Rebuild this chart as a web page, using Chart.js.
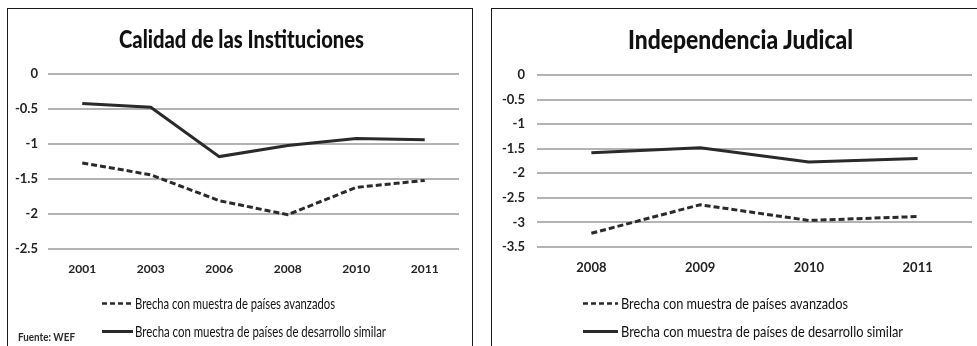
<!DOCTYPE html>
<html lang="es">
<head>
<meta charset="utf-8">
<title>Calidad de las Instituciones / Independencia Judical</title>
<script src="https://cdn.jsdelivr.net/npm/chart.js@4.4.1/dist/chart.umd.min.js"></script>
<style>
  html, body { margin: 0; padding: 0; background: #fff; }
  body { width: 977px; height: 346px; position: relative; overflow: hidden; font-family: Lato, "Open Sans", sans-serif; color: #1e1e1e; }
  .panel { position: absolute; box-sizing: border-box; border: 1.5px solid #1a1a1a; border-bottom: none; }
  #panelA { left: 7px; top: 8px; width: 466px; height: 360px; }
  #panelB { left: 491px; top: 8px; width: 500px; height: 360px; border-right: none; }
  canvas.c { position: absolute; }
  #chartA { left: 9px; top: 10px; }
  #chartB { left: 493px; top: 10px; }
  .fit { position: absolute; white-space: nowrap; transform-origin: left center; line-height: 1; }
  .title { font-weight: 900; font-size: 25px; color: #111; }
  .leg { font-size: 15px; color: #111; }
  .src { font-size: 12px; font-weight: 700; color: #2a2a2a; }
  svg.sw { position: absolute; overflow: visible; }
</style>
</head>
<body>
<div class="panel" id="panelA"></div>
<div class="panel" id="panelB"></div>

<canvas class="c" id="chartA" width="462" height="336" style="width:462px;height:336px"></canvas>
<canvas class="c" id="chartB" width="484" height="336" style="width:484px;height:336px"></canvas>

<div class="fit title" data-cx="241" data-cy="38" data-w="245">Calidad de las Instituciones</div>
<div class="fit title" data-cx="740" data-cy="39" data-w="225" style="font-size:26px">Independencia Judical</div>

<svg class="sw" style="left:102px;top:302px" width="32" height="3"><line x1="0" y1="1.5" x2="31" y2="1.5" stroke="#2a2a2a" stroke-width="2.5" stroke-dasharray="5,3"/></svg>
<svg class="sw" style="left:102px;top:330px" width="32" height="3"><line x1="0" y1="1.5" x2="31" y2="1.5" stroke="#2a2a2a" stroke-width="3"/></svg>
<div class="fit leg" data-x="135" data-cy="303" data-w="200">Brecha con muestra de países avanzados</div>
<div class="fit leg" data-x="135" data-cy="331" data-w="251">Brecha con muestra de países de desarrollo similar</div>
<div class="fit src" data-x="18" data-cy="337" data-w="57">Fuente: WEF</div>

<svg class="sw" style="left:583px;top:302px" width="36" height="3"><line x1="0" y1="1.5" x2="35" y2="1.5" stroke="#2a2a2a" stroke-width="2.5" stroke-dasharray="5,3"/></svg>
<svg class="sw" style="left:583px;top:330px" width="36" height="3"><line x1="0" y1="1.5" x2="35" y2="1.5" stroke="#2a2a2a" stroke-width="3"/></svg>
<div class="fit leg" data-x="621" data-cy="303" data-w="227">Brecha con muestra de países avanzados</div>
<div class="fit leg" data-x="621" data-cy="331" data-w="282">Brecha con muestra de países de desarrollo similar</div>

<script>
// Calidad de las Instituciones
const yearsA = ['2001', '2003', '2006', '2008', '2010', '2011'];
const avanzadosA = [-1.27, -1.44, -1.81, -2.01, -1.62, -1.52];
const similaresA = [-0.42, -0.475, -1.18, -1.02, -0.92, -0.94];
const yTicksA = ['0', '-0.5', '-1', '-1.5', '-2', '-2.5'];

// Independencia Judical
const yearsB = ['2008', '2009', '2010', '2011'];
const avanzadosB = [-3.22, -2.64, -2.96, -2.88];
const similaresB = [-1.58, -1.48, -1.77, -1.70];
const yTicksB = ['0', '-0.5', '-1', '-1.5', '-2', '-2.5', '-3', '-3.5'];

const seriesNames = ['Brecha con muestra de países avanzados', 'Brecha con muestra de países de desarrollo similar'];

Chart.defaults.font.family = 'Lato, "Open Sans", sans-serif';
Chart.defaults.color = '#1f1f1f';
Chart.defaults.animation = false;

function tickLabel(list) {
  // tick values run 0, -0.5, -1 ... matching the list order
  return function (value) {
    const i = Math.round(-value / 0.5);
    return list[i] !== undefined ? list[i] : '';
  };
}

function makeChart(id, years, dashed, solid, ticks, geo) {
  const ctx = document.getElementById(id);
  return new Chart(ctx, {
    type: 'line',
    data: {
      labels: years,
      datasets: [
        { label: seriesNames[0], data: dashed, borderColor: '#2a2a2a', borderWidth: 3, borderDash: [6, 3], pointRadius: 0, tension: 0, fill: false },
        { label: seriesNames[1], data: solid, borderColor: '#2a2a2a', borderWidth: 3, pointRadius: 0, tension: 0, fill: false }
      ]
    },
    options: {
      responsive: false,
      animation: false,
      layout: { padding: { top: geo.top, right: geo.right, bottom: geo.bottom, left: 0 } },
      plugins: { legend: { display: false }, title: { display: false }, tooltip: { enabled: false } },
      scales: {
        x: {
          offset: true,
          grid: { display: false, drawTicks: false },
          border: { display: false },
          ticks: { padding: 13, font: { size: geo.xFont, weight: 'bold' }, color: '#222', maxRotation: 0, autoSkip: false },
          afterFit: (s) => { s.height = 30; }
        },
        y: {
          min: -(ticks.length - 1) * 0.5,
          max: 0,
          grid: { color: '#b3b3b3', lineWidth: 2, drawTicks: false },
          border: { display: false },
          ticks: { stepSize: 0.5, padding: geo.yPad, font: { size: 13, weight: 'bold' }, color: '#222', callback: tickLabel(ticks) },
          afterFit: (s) => { s.width = geo.yWidth; }
        }
      }
    }
  });
}

makeChart('chartA', yearsA, avanzadosA, similaresA, yTicksA, { top: 64, right: 12, bottom: 67, yWidth: 39, yPad: 10, xFont: 12 });
makeChart('chartB', yearsB, avanzadosB, similaresB, yTicksB, { top: 65, right: 5, bottom: 69, yWidth: 44, yPad: 12, xFont: 13 });

// narrow text blocks to their set widths and place them
document.querySelectorAll('.fit').forEach((el) => {
  const natural = el.getBoundingClientRect();
  const w = parseFloat(el.dataset.w);
  const sx = w / natural.width;
  el.style.transform = 'scaleX(' + sx + ')';
  const left = el.dataset.cx !== undefined ? parseFloat(el.dataset.cx) - w / 2 : parseFloat(el.dataset.x);
  el.style.left = left + 'px';
  el.style.top = (parseFloat(el.dataset.cy) - natural.height / 2) + 'px';
});
</script>
</body>
</html>
